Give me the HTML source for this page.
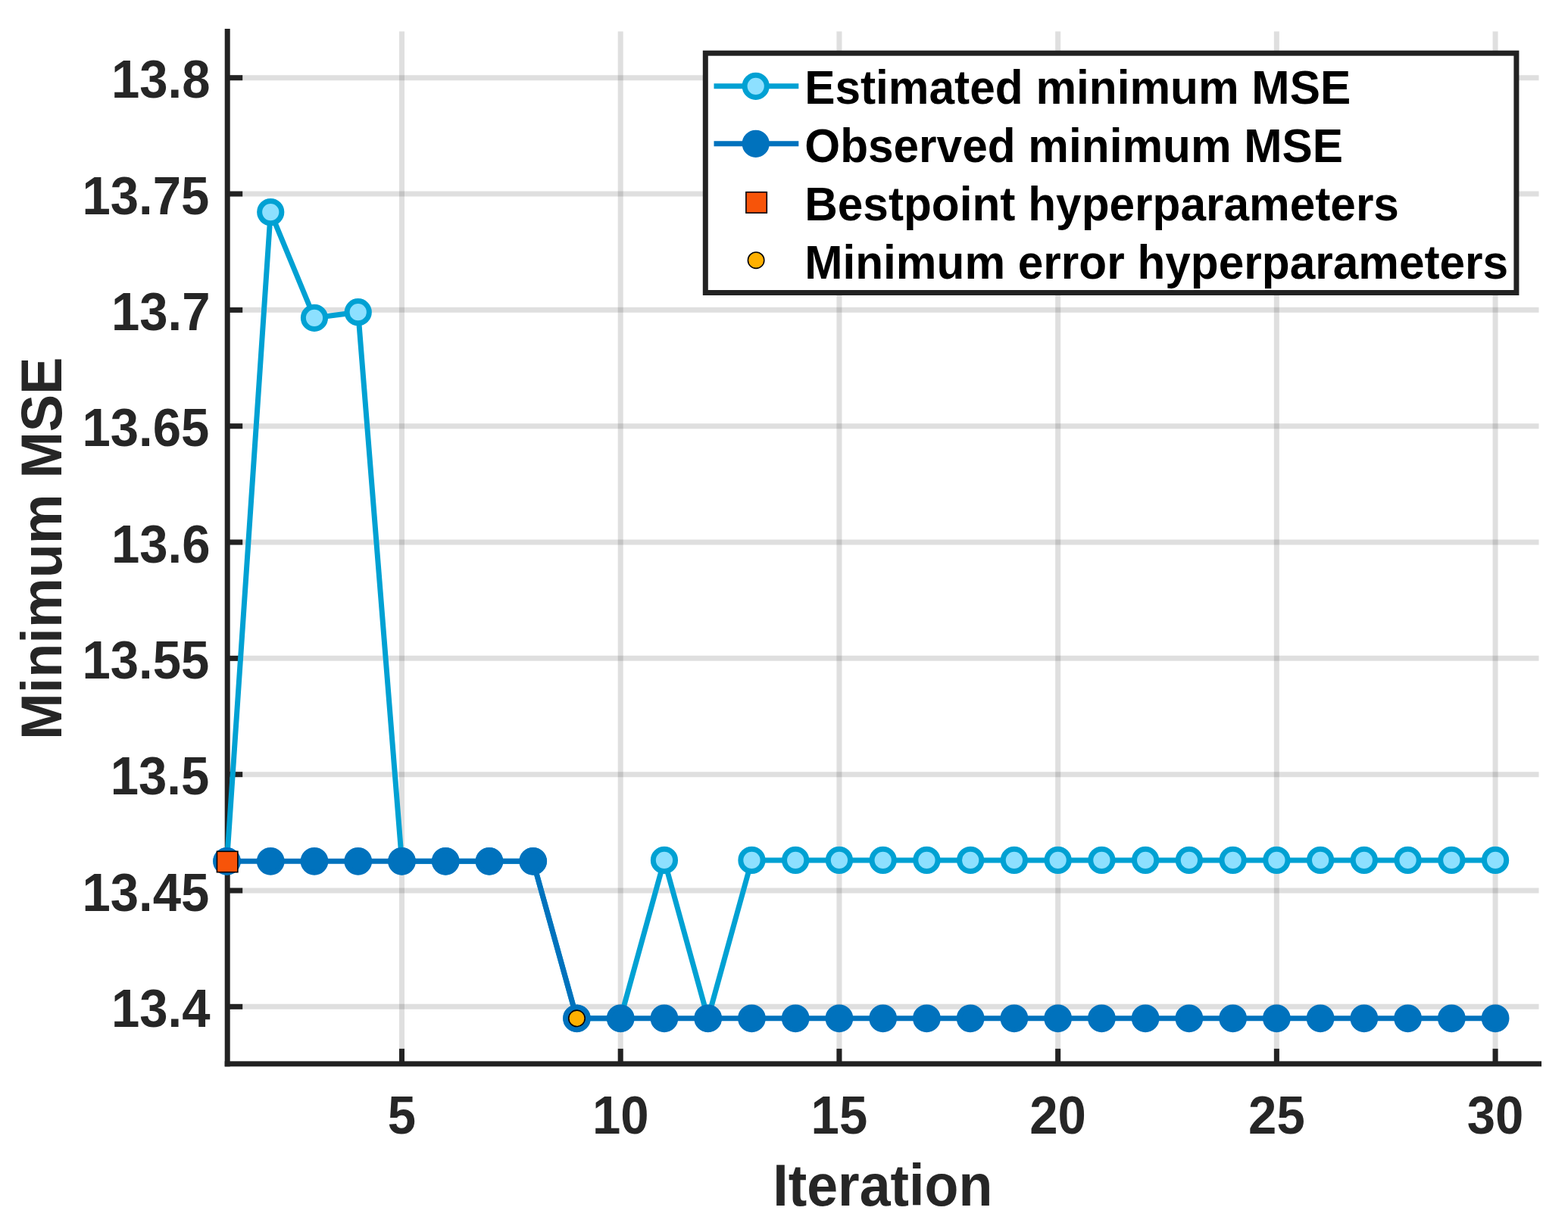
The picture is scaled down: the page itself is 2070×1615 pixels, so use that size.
<!DOCTYPE html>
<html><head><meta charset="utf-8"><title>Minimum MSE vs Iteration</title>
<style>
html,body{margin:0;padding:0;background:#ffffff;}
body{width:2070px;height:1615px;overflow:hidden;}
svg{display:block;}
text{font-family:"Liberation Sans",Arial,Helvetica,sans-serif;font-weight:bold;}
</style></head><body>
<svg width="2070" height="1615" viewBox="0 0 2070 1615">
<rect x="0" y="0" width="2070" height="1615" fill="#ffffff"/>
<g stroke="#262626" stroke-opacity="0.15" stroke-width="7" fill="none"><line x1="300.2" y1="102.70" x2="2031.5" y2="102.70"/><line x1="300.2" y1="256.03" x2="2031.5" y2="256.03"/><line x1="300.2" y1="409.36" x2="2031.5" y2="409.36"/><line x1="300.2" y1="562.69" x2="2031.5" y2="562.69"/><line x1="300.2" y1="716.02" x2="2031.5" y2="716.02"/><line x1="300.2" y1="869.35" x2="2031.5" y2="869.35"/><line x1="300.2" y1="1022.68" x2="2031.5" y2="1022.68"/><line x1="300.2" y1="1176.01" x2="2031.5" y2="1176.01"/><line x1="300.2" y1="1329.34" x2="2031.5" y2="1329.34"/><line x1="530.48" y1="41.5" x2="530.48" y2="1404.8"/><line x1="819.20" y1="41.5" x2="819.20" y2="1404.8"/><line x1="1107.92" y1="41.5" x2="1107.92" y2="1404.8"/><line x1="1396.64" y1="41.5" x2="1396.64" y2="1404.8"/><line x1="1685.36" y1="41.5" x2="1685.36" y2="1404.8"/><line x1="1974.08" y1="41.5" x2="1974.08" y2="1404.8"/></g>
<g fill="#222222"><rect x="296.70" y="38.00" width="7" height="1370.35"/><rect x="296.70" y="1401.35" width="1738.30" height="7"/><rect x="300.20" y="99.20" width="20.00" height="7"/><rect x="300.20" y="252.53" width="20.00" height="7"/><rect x="300.20" y="405.86" width="20.00" height="7"/><rect x="300.20" y="559.19" width="20.00" height="7"/><rect x="300.20" y="712.52" width="20.00" height="7"/><rect x="300.20" y="865.85" width="20.00" height="7"/><rect x="300.20" y="1019.18" width="20.00" height="7"/><rect x="300.20" y="1172.51" width="20.00" height="7"/><rect x="300.20" y="1325.84" width="20.00" height="7"/><rect x="526.98" y="1384.85" width="7" height="20.00"/><rect x="815.70" y="1384.85" width="7" height="20.00"/><rect x="1104.42" y="1384.85" width="7" height="20.00"/><rect x="1393.14" y="1384.85" width="7" height="20.00"/><rect x="1681.86" y="1384.85" width="7" height="20.00"/><rect x="1970.58" y="1384.85" width="7" height="20.00"/></g>
<g fill="#262626" font-size="67.1"><text transform="translate(277.5,129.4) scale(1,1.045)" text-anchor="end">13.8</text><text transform="translate(276.3,282.7) scale(1,1.045)" text-anchor="end">13.75</text><text transform="translate(277.5,436.1) scale(1,1.045)" text-anchor="end">13.7</text><text transform="translate(276.3,589.4) scale(1,1.045)" text-anchor="end">13.65</text><text transform="translate(277.5,742.7) scale(1,1.045)" text-anchor="end">13.6</text><text transform="translate(276.3,896.1) scale(1,1.045)" text-anchor="end">13.55</text><text transform="translate(276.3,1049.4) scale(1,1.045)" text-anchor="end">13.5</text><text transform="translate(276.3,1202.7) scale(1,1.045)" text-anchor="end">13.45</text><text transform="translate(277.5,1356.0) scale(1,1.045)" text-anchor="end">13.4</text><text transform="translate(530.5,1496.8) scale(1,1.045)" text-anchor="middle">5</text><text transform="translate(819.2,1496.8) scale(1,1.045)" text-anchor="middle">10</text><text transform="translate(1107.9,1496.8) scale(1,1.045)" text-anchor="middle">15</text><text transform="translate(1396.6,1496.8) scale(1,1.045)" text-anchor="middle">20</text><text transform="translate(1685.4,1496.8) scale(1,1.045)" text-anchor="middle">25</text><text transform="translate(1974.1,1496.8) scale(1,1.045)" text-anchor="middle">30</text></g>
<text transform="translate(1165.3,1591.9) scale(1,1.065)" text-anchor="middle" fill="#262626" font-size="73.55">Iteration</text>
<text transform="translate(81.2,724.3) rotate(-90) scale(1,1.03)" text-anchor="middle" fill="#262626" font-size="73.98">Minimum MSE</text>
<polyline points="299.50,1137.30 357.24,280.10 414.99,419.80 472.73,412.20 530.48,1137.30 588.22,1137.30 645.96,1137.30 703.71,1137.30 761.45,1344.80 819.20,1344.80 876.94,1135.90 934.68,1344.80 992.43,1135.90 1050.17,1135.90 1107.92,1135.90 1165.66,1135.90 1223.40,1135.90 1281.15,1135.90 1338.89,1135.90 1396.64,1135.90 1454.38,1135.90 1512.12,1135.90 1569.87,1135.90 1627.61,1135.90 1685.36,1135.90 1743.10,1135.90 1800.84,1135.90 1858.59,1135.90 1916.33,1135.90 1974.08,1135.90" fill="none" stroke="#00a1d3" stroke-width="7" stroke-linejoin="miter"/>
<g fill="#8de0ff" stroke="#00a1d3" stroke-width="7"><circle cx="299.50" cy="1137.30" r="14.6"/><circle cx="357.24" cy="280.10" r="14.6"/><circle cx="414.99" cy="419.80" r="14.6"/><circle cx="472.73" cy="412.20" r="14.6"/><circle cx="530.48" cy="1137.30" r="14.6"/><circle cx="588.22" cy="1137.30" r="14.6"/><circle cx="645.96" cy="1137.30" r="14.6"/><circle cx="703.71" cy="1137.30" r="14.6"/><circle cx="761.45" cy="1344.80" r="14.6"/><circle cx="819.20" cy="1344.80" r="14.6"/><circle cx="876.94" cy="1135.90" r="14.6"/><circle cx="934.68" cy="1344.80" r="14.6"/><circle cx="992.43" cy="1135.90" r="14.6"/><circle cx="1050.17" cy="1135.90" r="14.6"/><circle cx="1107.92" cy="1135.90" r="14.6"/><circle cx="1165.66" cy="1135.90" r="14.6"/><circle cx="1223.40" cy="1135.90" r="14.6"/><circle cx="1281.15" cy="1135.90" r="14.6"/><circle cx="1338.89" cy="1135.90" r="14.6"/><circle cx="1396.64" cy="1135.90" r="14.6"/><circle cx="1454.38" cy="1135.90" r="14.6"/><circle cx="1512.12" cy="1135.90" r="14.6"/><circle cx="1569.87" cy="1135.90" r="14.6"/><circle cx="1627.61" cy="1135.90" r="14.6"/><circle cx="1685.36" cy="1135.90" r="14.6"/><circle cx="1743.10" cy="1135.90" r="14.6"/><circle cx="1800.84" cy="1135.90" r="14.6"/><circle cx="1858.59" cy="1135.90" r="14.6"/><circle cx="1916.33" cy="1135.90" r="14.6"/><circle cx="1974.08" cy="1135.90" r="14.6"/></g>
<polyline points="299.50,1137.30 357.24,1137.30 414.99,1137.30 472.73,1137.30 530.48,1137.30 588.22,1137.30 645.96,1137.30 703.71,1137.30 761.45,1344.80 819.20,1344.80 876.94,1344.80 934.68,1344.80 992.43,1344.80 1050.17,1344.80 1107.92,1344.80 1165.66,1344.80 1223.40,1344.80 1281.15,1344.80 1338.89,1344.80 1396.64,1344.80 1454.38,1344.80 1512.12,1344.80 1569.87,1344.80 1627.61,1344.80 1685.36,1344.80 1743.10,1344.80 1800.84,1344.80 1858.59,1344.80 1916.33,1344.80 1974.08,1344.80" fill="none" stroke="#0072bd" stroke-width="7"/>
<g fill="#0072bd" stroke="#0072bd" stroke-width="7"><circle cx="299.50" cy="1137.30" r="14.9"/><circle cx="357.24" cy="1137.30" r="14.9"/><circle cx="414.99" cy="1137.30" r="14.9"/><circle cx="472.73" cy="1137.30" r="14.9"/><circle cx="530.48" cy="1137.30" r="14.9"/><circle cx="588.22" cy="1137.30" r="14.9"/><circle cx="645.96" cy="1137.30" r="14.9"/><circle cx="703.71" cy="1137.30" r="14.9"/><circle cx="761.45" cy="1344.80" r="14.9"/><circle cx="819.20" cy="1344.80" r="14.9"/><circle cx="876.94" cy="1344.80" r="14.9"/><circle cx="934.68" cy="1344.80" r="14.9"/><circle cx="992.43" cy="1344.80" r="14.9"/><circle cx="1050.17" cy="1344.80" r="14.9"/><circle cx="1107.92" cy="1344.80" r="14.9"/><circle cx="1165.66" cy="1344.80" r="14.9"/><circle cx="1223.40" cy="1344.80" r="14.9"/><circle cx="1281.15" cy="1344.80" r="14.9"/><circle cx="1338.89" cy="1344.80" r="14.9"/><circle cx="1396.64" cy="1344.80" r="14.9"/><circle cx="1454.38" cy="1344.80" r="14.9"/><circle cx="1512.12" cy="1344.80" r="14.9"/><circle cx="1569.87" cy="1344.80" r="14.9"/><circle cx="1627.61" cy="1344.80" r="14.9"/><circle cx="1685.36" cy="1344.80" r="14.9"/><circle cx="1743.10" cy="1344.80" r="14.9"/><circle cx="1800.84" cy="1344.80" r="14.9"/><circle cx="1858.59" cy="1344.80" r="14.9"/><circle cx="1916.33" cy="1344.80" r="14.9"/><circle cx="1974.08" cy="1344.80" r="14.9"/></g>
<rect x="286.45" y="1124.30" width="27.4" height="27.4" fill="#f75409" stroke="#000" stroke-width="1.6"/>
<circle cx="761.45" cy="1344.80" r="10.7" fill="#ffb000" stroke="#000" stroke-width="1.6"/>
<rect x="931.3" y="70.2" width="1070.6" height="316.3" fill="#ffffff" stroke="#222222" stroke-width="7"/>
<line x1="942.5" y1="113.8" x2="1054.3" y2="113.8" stroke="#00a1d3" stroke-width="7"/><circle cx="997.7" cy="113.8" r="14.6" fill="#8de0ff" stroke="#00a1d3" stroke-width="7"/>
<line x1="942.5" y1="189.8" x2="1054.3" y2="189.8" stroke="#0072bd" stroke-width="7"/><circle cx="997.7" cy="189.8" r="14.6" fill="#0072bd" stroke="#0072bd" stroke-width="7"/>
<rect x="984.90" y="253.70" width="27.4" height="27.4" fill="#f75409" stroke="#000" stroke-width="1.6"/>
<circle cx="998.1" cy="343.7" r="10.7" fill="#ffb000" stroke="#000" stroke-width="1.6"/>
<g fill="#000" font-size="60.35"><text transform="translate(1062.2,137.0) scale(1,1.045)">Estimated minimum MSE</text><text transform="translate(1062.2,213.9) scale(1,1.045)">Observed minimum MSE</text><text transform="translate(1062.2,290.8) scale(1,1.045)">Bestpoint hyperparameters</text><text transform="translate(1062.2,367.7) scale(1,1.045)">Minimum error hyperparameters</text></g>
</svg>
</body></html>
